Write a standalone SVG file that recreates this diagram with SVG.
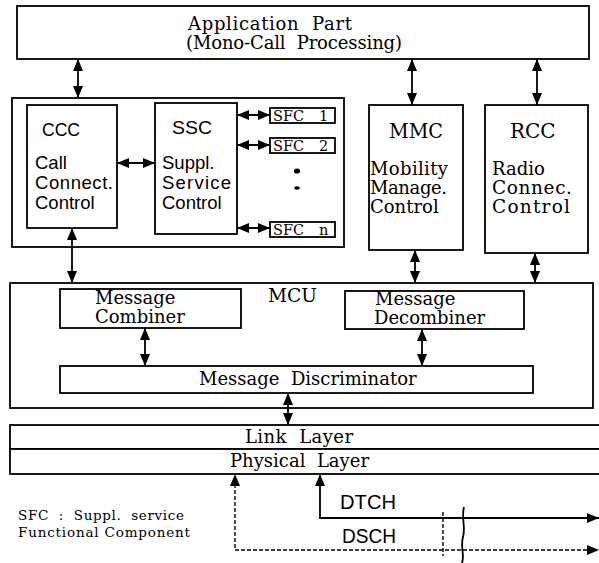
<svg xmlns="http://www.w3.org/2000/svg" width="599" height="563" viewBox="0 0 599 563">
  <defs>
    <marker id="ah" viewBox="0 0 12 10" refX="12" refY="5" markerWidth="12" markerHeight="10" markerUnits="userSpaceOnUse" orient="auto-start-reverse">
      <path d="M0,0 L12,5 L0,10 Z" fill="#000"/>
    </marker>
  </defs>
  <style>
    .box { fill: #fff; stroke: #000; stroke-width: 1.8; }
    .ln { fill: none; stroke: #000; stroke-width: 1.8; }
    .dash { fill: none; stroke: #000; stroke-width: 1.4; stroke-dasharray: 4 2; }
    .bi { marker-start: url(#ah); marker-end: url(#ah); }
    .serif { font-family: "DejaVu Serif", "Liberation Serif", serif; fill: #000; }
    .sans { font-family: "Liberation Sans", "DejaVu Sans", sans-serif; fill: #000; }
  </style>
  <rect width="599" height="563" fill="#fff"/>

  <g id="application-part">
    <rect class="box" x="17" y="6" width="572" height="53"/>
    <text class="serif" x="188" y="30" font-size="18" textLength="164" lengthAdjust="spacing" xml:space="preserve">Application  Part</text>
    <text class="serif" x="186" y="49" font-size="18" textLength="216" lengthAdjust="spacing" xml:space="preserve">(Mono-Call  Processing)</text>
  </g>

  <g id="call-control-group">
    <rect class="box" x="12" y="98" width="332" height="149"/>
  </g>

  <g id="ccc">
    <rect class="box" x="27" y="105" width="90" height="123"/>
    <text class="sans" x="42" y="136" font-size="19" textLength="38" lengthAdjust="spacingAndGlyphs">CCC</text>
    <text class="sans" x="35" y="169" font-size="18.5">Call</text>
    <text class="sans" x="35" y="189" font-size="18.5" textLength="78" lengthAdjust="spacing">Connect.</text>
    <text class="sans" x="35" y="209" font-size="18.5">Control</text>
  </g>

  <g id="ssc">
    <rect class="box" x="155" y="103" width="82" height="131"/>
    <text class="sans" x="172" y="134" font-size="19" textLength="40" lengthAdjust="spacingAndGlyphs">SSC</text>
    <text class="sans" x="162" y="169" font-size="18.5">Suppl.</text>
    <text class="sans" x="162" y="189" font-size="18.5" textLength="69" lengthAdjust="spacing">Service</text>
    <text class="sans" x="162" y="209" font-size="18.5">Control</text>
  </g>

  <g id="sfc-1">
    <rect class="box" x="270" y="108" width="65" height="15"/>
    <text class="serif" y="121" font-size="14.5"><tspan x="273">SFC</tspan><tspan x="319">1</tspan></text>
  </g>
  <g id="sfc-2">
    <rect class="box" x="270" y="138" width="65" height="15"/>
    <text class="serif" y="151" font-size="14.5"><tspan x="273">SFC</tspan><tspan x="319">2</tspan></text>
  </g>
  <g id="sfc-dots">
    <ellipse cx="297" cy="171" rx="3" ry="2.6" fill="#000"/>
    <ellipse cx="297" cy="188" rx="2.8" ry="1.8" fill="#000"/>
  </g>
  <g id="sfc-n">
    <rect class="box" x="270" y="222" width="65" height="15"/>
    <text class="serif" y="235" font-size="14.5"><tspan x="273">SFC</tspan><tspan x="319">n</tspan></text>
  </g>

  <g id="mmc">
    <rect class="box" x="369" y="105" width="94" height="145"/>
    <text class="serif" x="389" y="138" font-size="20" textLength="54" lengthAdjust="spacingAndGlyphs">MMC</text>
    <text class="serif" x="370" y="175" font-size="18" textLength="78" lengthAdjust="spacing">Mobility</text>
    <text class="serif" x="370" y="194" font-size="18" textLength="77" lengthAdjust="spacing">Manage.</text>
    <text class="serif" x="370" y="213" font-size="18">Control</text>
  </g>

  <g id="rcc">
    <rect class="box" x="485" y="105" width="103" height="148"/>
    <text class="serif" x="510" y="138" font-size="20">RCC</text>
    <text class="serif" x="492" y="175" font-size="18">Radio</text>
    <text class="serif" x="492" y="194" font-size="18.5" textLength="80" lengthAdjust="spacing">Connec.</text>
    <text class="serif" x="492" y="213" font-size="18.5" textLength="78" lengthAdjust="spacing">Control</text>
  </g>

  <g id="mcu">
    <rect class="box" x="10" y="283" width="583" height="125"/>
    <text class="serif" x="268" y="302" font-size="18" textLength="49" lengthAdjust="spacingAndGlyphs">MCU</text>
  </g>

  <g id="message-combiner">
    <rect class="box" x="60" y="289" width="181" height="39"/>
    <text class="serif" x="95" y="304" font-size="18">Message</text>
    <text class="serif" x="95" y="323" font-size="18">Combiner</text>
  </g>

  <g id="message-decombiner">
    <rect class="box" x="345" y="291" width="179" height="38"/>
    <text class="serif" x="375" y="305" font-size="18">Message</text>
    <text class="serif" x="374" y="324" font-size="18">Decombiner</text>
  </g>

  <g id="message-discriminator">
    <rect class="box" x="60" y="366" width="473" height="27"/>
    <text class="serif" x="199" y="385" font-size="18" xml:space="preserve">Message  Discriminator</text>
  </g>

  <g id="link-layer">
    <rect class="box" x="10" y="425" width="600" height="24"/>
    <text class="serif" x="245" y="443" font-size="18" textLength="108" lengthAdjust="spacing" xml:space="preserve">Link  Layer</text>
  </g>

  <g id="physical-layer">
    <rect class="box" x="10" y="449" width="600" height="25"/>
    <text class="serif" x="230" y="467" font-size="18" xml:space="preserve">Physical  Layer</text>
  </g>

  <g id="legend">
    <text class="serif" x="18" y="520" font-size="13.5" textLength="166" lengthAdjust="spacing" xml:space="preserve">SFC  :  Suppl.  service</text>
    <text class="serif" x="18" y="537" font-size="13.5" textLength="172" lengthAdjust="spacing">Functional Component</text>
  </g>

  <g id="channel-labels">
    <text class="sans" x="340" y="509" font-size="20" textLength="56" lengthAdjust="spacingAndGlyphs">DTCH</text>
    <text class="sans" x="342" y="543" font-size="20" textLength="54" lengthAdjust="spacingAndGlyphs">DSCH</text>
  </g>

  <g id="connectors">
    <!-- application part to controllers -->
    <line class="ln bi" x1="78" y1="59" x2="78" y2="98"/>
    <line class="ln bi" x1="412" y1="59" x2="412" y2="105"/>
    <line class="ln bi" x1="537" y1="59" x2="537" y2="105"/>
    <!-- CCC to SSC -->
    <line class="ln bi" x1="117" y1="163" x2="155" y2="163"/>
    <!-- SSC to functional components -->
    <line class="ln bi" x1="237" y1="115" x2="270" y2="115"/>
    <line class="ln bi" x1="237" y1="145" x2="270" y2="145"/>
    <line class="ln bi" x1="237" y1="228" x2="270" y2="228"/>
    <!-- controllers to MCU -->
    <line class="ln bi" x1="72" y1="228" x2="72" y2="283"/>
    <line class="ln bi" x1="415" y1="250" x2="415" y2="283"/>
    <line class="ln bi" x1="535" y1="253" x2="535" y2="283"/>
    <!-- inside MCU -->
    <line class="ln bi" x1="145" y1="328" x2="145" y2="366"/>
    <line class="ln bi" x1="422" y1="329" x2="422" y2="366"/>
    <!-- MCU to link layer -->
    <line class="ln bi" x1="288" y1="393" x2="288" y2="425"/>
    <!-- DTCH: traffic channel into the physical layer -->
    <polyline class="ln bi" points="599,518 320,518 320,474"/>
    <!-- DSCH: signalling channel, dashed -->
    <polyline class="dash" points="235,484 235,550 590,550"/>
    <path d="M235,474 l-5,12 h10 Z" fill="#000"/>
    <path d="M599,550 l-12,-5 v10 Z" fill="#000"/>
    <!-- break marks -->
    <line class="dash" x1="443" y1="512" x2="443" y2="556"/>
    <path class="ln" d="M464,507 C461,518 466,527 463,537 C460,547 465,555 462,563" stroke-width="1.1"/>
  </g>
</svg>
